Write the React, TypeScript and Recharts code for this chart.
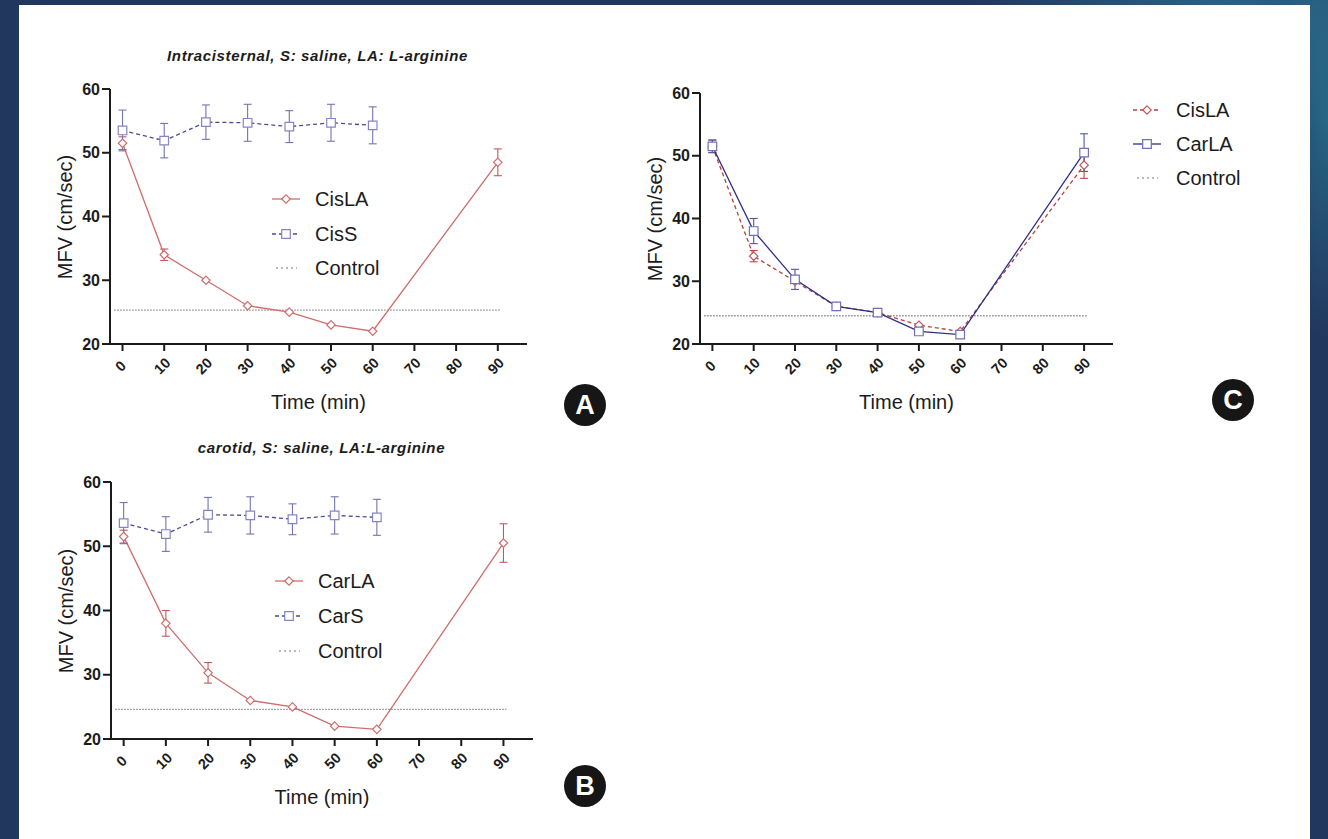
import React from "react";
import { LineChart, Line, XAxis, YAxis, ErrorBar, ReferenceLine } from "recharts";

// time points (min) and axis ticks
const times = [0, 10, 20, 30, 40, 50, 60, 90];
const xTicks = [0, 10, 20, 30, 40, 50, 60, 70, 80, 90];
const yTicks = [20, 30, 40, 50, 60];

// MFV (cm/sec), mean and error
const cisLA = [51.5, 34, 30, 26, 25, 23, 22, 48.5];
const cisLAErr = [1, 0.9, null, null, null, null, null, 2.1];
const cisS = [53.5, 51.9, 54.8, 54.7, 54.1, 54.7, 54.3, null];
const cisSErr = [3.2, 2.7, 2.7, 2.9, 2.5, 2.9, 2.9, null];
const carLA = [51.5, 38, 30.3, 26, 25, 22, 21.5, 50.5];
const carLAErr = [1, 2, 1.6, null, null, null, null, 3];
const carS = [53.6, 51.9, 54.9, 54.8, 54.2, 54.8, 54.5, null];
const carSErr = [3.2, 2.7, 2.7, 2.9, 2.4, 2.9, 2.8, null];

// control level per panel
const controlA = 25.3;
const controlB = 24.6;
const controlC = 24.5;

const rows = times.map((t, i) => ({
  t,
  cisLA: cisLA[i],
  cisLAErr: cisLAErr[i],
  cisS: cisS[i],
  cisSErr: cisSErr[i],
  carLA: carLA[i],
  carLAErr: carLAErr[i],
  carS: carS[i],
  carSErr: carSErr[i],
}));

const FONT = "'Liberation Sans', Arial, Helvetica, sans-serif";
const INK = "#1b1b1b";

type Marker = "diamond" | "square";

interface Series {
  key: string;
  errKey: string;
  name: string;
  color: string;
  markColor: string;
  errColor: string;
  dash?: string;
  marker: Marker;
}

const markPath = (m: Marker, x: number, y: number) => {
  if (m === "diamond") {
    const r = 4.2;
    return `M${x},${y - r}L${x + r},${y}L${x},${y + r}L${x - r},${y}Z`;
  }
  const r = 4.3;
  return `M${x - r},${y - r}H${x + r}V${y + r}H${x - r}Z`;
};

const makeDot = (s: Series) => (p: any) => {
  const k = `${s.key}-${p.index}`;
  if (p.cx == null || p.cy == null || p.value == null) return <g key={k} />;
  return (
    <path
      key={k}
      d={markPath(s.marker, p.cx, p.cy)}
      fill="#fff"
      stroke={s.markColor}
      strokeWidth={1.2}
    />
  );
};

const XTick = ({ x, y, payload }: any) => {
  const cx = x - 2;
  const cy = y + 13;
  return (
    <text
      x={cx}
      y={cy}
      transform={`rotate(-45 ${cx} ${cy})`}
      textAnchor="middle"
      dominantBaseline="central"
      fontSize={14.5}
      fontWeight={700}
      fill={INK}
      fontFamily={FONT}
    >
      {payload.value}
    </text>
  );
};

interface LegendItem {
  name: string;
  color: string;
  markColor?: string;
  dash?: string;
  marker?: Marker;
  control?: boolean;
}

const LegendBox = ({ left, top, rowH, items }: { left: number; top: number; rowH: number; items: LegendItem[] }) => (
  <div style={{ position: "absolute", left, top, fontFamily: FONT }}>
    {items.map((it) => (
      <div key={it.name} style={{ display: "flex", alignItems: "center", height: rowH }}>
        <svg width={28} height={14} style={{ display: "block" }}>
          {it.control ? (
            <line x1={4} x2={25} y1={7} y2={7} stroke="#777" strokeWidth={1.2} strokeDasharray="2 3" />
          ) : (
            <>
              <line x1={0} x2={28} y1={7} y2={7} stroke={it.color} strokeWidth={1.3} strokeDasharray={it.dash} />
              <path d={markPath(it.marker || "diamond", 14, 7)} fill="#fff" stroke={it.markColor} strokeWidth={1.2} />
            </>
          )}
        </svg>
        <span style={{ marginLeft: 15, fontSize: 20, lineHeight: 1, color: INK, whiteSpace: "nowrap" }}>{it.name}</span>
      </div>
    ))}
  </div>
);

interface PanelProps {
  box: { x: number; y: number; w: number; h: number };
  series: Series[];
  control: number;
  title?: string;
  titleX?: number;
  titleY?: number;
  legend: LegendItem[];
  legendPos: { left: number; top: number; rowH: number };
  badge: { letter: string; x: number; y: number };
}

const Panel = ({ box, series, control, title, titleX, titleY, legend, legendPos, badge }: PanelProps) => {
  const padL = 90;
  const padT = 49;
  const padR = 33;
  const padB = 76;
  return (
    <>
      <div style={{ position: "absolute", left: box.x - padL, top: box.y - padT }}>
        <LineChart
          width={padL + box.w + padR}
          height={padT + box.h + padB}
          data={rows}
          margin={{ top: padT, right: padR, bottom: 0, left: 0 }}
        >
          <XAxis
            dataKey="t"
            type="number"
            domain={[-3, 97]}
            ticks={xTicks}
            interval={0}
            height={padB}
            tickSize={7}
            tickMargin={2}
            axisLine={{ stroke: INK, strokeWidth: 2 }}
            tickLine={{ stroke: INK, strokeWidth: 2 }}
            tick={<XTick />}
          />
          <YAxis
            type="number"
            domain={[20, 60]}
            ticks={yTicks}
            interval={0}
            width={padL}
            tickSize={8}
            tickMargin={2}
            axisLine={{ stroke: INK, strokeWidth: 2 }}
            tickLine={{ stroke: INK, strokeWidth: 2 }}
            tick={{ fontSize: 16, fontWeight: 700, fill: INK, fontFamily: FONT }}
          />
          <ReferenceLine
            segment={[
              { x: -2, y: control },
              { x: 90.7, y: control },
            ]}
            stroke="#8a8a8a"
            strokeWidth={1.3}
            strokeDasharray="1.5 1.5"
          />
          {series.map((s) => (
            <Line
              key={s.key}
              type="linear"
              dataKey={s.key}
              name={s.name}
              stroke={s.color}
              strokeWidth={1.3}
              strokeDasharray={s.dash}
              dot={makeDot(s)}
              activeDot={false}
              connectNulls={false}
              isAnimationActive={false}
            >
              <ErrorBar
                dataKey={s.errKey}
                direction="y"
                width={4}
                stroke={s.errColor}
                strokeWidth={1.1}
                isAnimationActive={false}
              />
            </Line>
          ))}
        </LineChart>
      </div>
      {title && (
        <div
          style={{
            position: "absolute",
            left: titleX,
            top: titleY,
            transform: "translate(-50%, -50%)",
            fontFamily: FONT,
            fontSize: 15,
            fontWeight: 700,
            fontStyle: "italic",
            letterSpacing: 0.65,
            color: INK,
            whiteSpace: "nowrap",
            lineHeight: 1,
          }}
        >
          {title}
        </div>
      )}
      <div
        style={{
          position: "absolute",
          left: box.x + box.w / 2,
          top: box.y + box.h + 58,
          transform: "translate(-50%, -50%)",
          fontFamily: FONT,
          fontSize: 20,
          color: INK,
          whiteSpace: "nowrap",
          lineHeight: 1,
        }}
      >
        Time (min)
      </div>
      <div
        style={{
          position: "absolute",
          left: box.x - 45,
          top: box.y + box.h / 2,
          transform: "translate(-50%, -50%) rotate(-90deg)",
          fontFamily: FONT,
          fontSize: 20,
          color: INK,
          whiteSpace: "nowrap",
          lineHeight: 1,
        }}
      >
        MFV (cm/sec)
      </div>
      <LegendBox left={legendPos.left} top={legendPos.top} rowH={legendPos.rowH} items={legend} />
      <div
        style={{
          position: "absolute",
          left: badge.x - 21,
          top: badge.y - 21,
          width: 42,
          height: 42,
          borderRadius: "50%",
          background: "#161616",
          color: "#fff",
          fontFamily: FONT,
          fontWeight: 700,
          fontSize: 27,
          lineHeight: "42px",
          textAlign: "center",
        }}
      >
        {badge.letter}
      </div>
    </>
  );
};

const RED_LIGHT = "#cf6c6c";
const BLUE_DASH = "#4b4b95";
const BLUE_MARK = "#8585c6";

const seriesA: Series[] = [
  { key: "cisLA", errKey: "cisLAErr", name: "CisLA", color: RED_LIGHT, markColor: RED_LIGHT, errColor: "#c25a5a", marker: "diamond" },
  { key: "cisS", errKey: "cisSErr", name: "CisS", color: BLUE_DASH, markColor: BLUE_MARK, errColor: "#7474b0", dash: "4 3", marker: "square" },
];

const seriesB: Series[] = [
  { key: "carLA", errKey: "carLAErr", name: "CarLA", color: RED_LIGHT, markColor: RED_LIGHT, errColor: "#c25a5a", marker: "diamond" },
  { key: "carS", errKey: "carSErr", name: "CarS", color: BLUE_DASH, markColor: BLUE_MARK, errColor: "#7474b0", dash: "4 3", marker: "square" },
];

const seriesC: Series[] = [
  { key: "cisLA", errKey: "cisLAErr", name: "CisLA", color: "#b8403c", markColor: "#c25a5a", errColor: "#b84a46", dash: "4 3", marker: "diamond" },
  { key: "carLA", errKey: "carLAErr", name: "CarLA", color: "#2f2f86", markColor: "#7070bd", errColor: "#5555a4", marker: "square" },
];

const legendFrom = (s: Series[]): LegendItem[] => [
  ...s.map((x) => ({ name: x.name, color: x.color, markColor: x.markColor, dash: x.dash, marker: x.marker })),
  { name: "Control", color: "#777", control: true },
];

export default function App() {
  return (
    <div
      style={{
        position: "absolute",
        left: 0,
        top: 0,
        width: 1328,
        height: 839,
        overflow: "hidden",
        background:
          "radial-gradient(ellipse 260px 140px at 1230px 10px, rgba(48,130,160,0.6), rgba(48,130,160,0) 100%), radial-gradient(ellipse 60px 220px at 1328px 120px, rgba(40,120,150,0.7), rgba(40,120,150,0) 100%), #22375d",
      }}
    >
      <div style={{ position: "absolute", left: 19, top: 5, width: 1291, height: 834, background: "#fff" }} />
      <Panel
        box={{ x: 110, y: 89, w: 417, h: 255 }}
        series={seriesA}
        control={controlA}
        title="Intracisternal, S: saline, LA: L-arginine"
        titleX={317.5}
        titleY={55}
        legend={legendFrom(seriesA)}
        legendPos={{ left: 272, top: 182, rowH: 34.5 }}
        badge={{ letter: "A", x: 585, y: 405 }}
      />
      <Panel
        box={{ x: 111, y: 482, w: 422, h: 257 }}
        series={seriesB}
        control={controlB}
        title="carotid, S: saline, LA:L-arginine"
        titleX={321.5}
        titleY={447}
        legend={legendFrom(seriesB)}
        legendPos={{ left: 275, top: 563, rowH: 35 }}
        badge={{ letter: "B", x: 585, y: 786 }}
      />
      <Panel
        box={{ x: 700, y: 93, w: 413, h: 251 }}
        series={seriesC}
        control={controlC}
        legend={legendFrom(seriesC)}
        legendPos={{ left: 1133, top: 93, rowH: 34 }}
        badge={{ letter: "C", x: 1233, y: 400 }}
      />
    </div>
  );
}
